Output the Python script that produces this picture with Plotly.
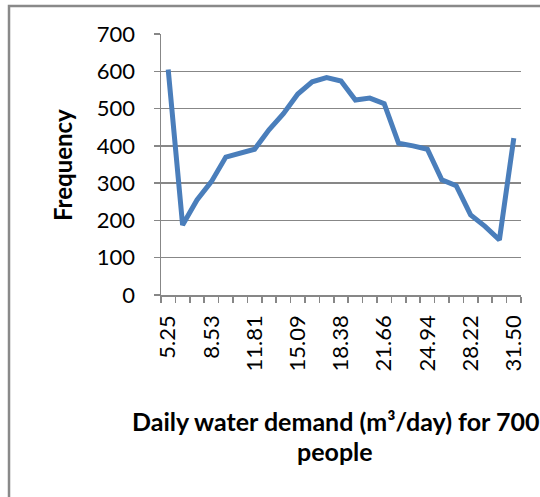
import plotly.graph_objects as go

# Category labels (m3/day) and frequencies
categories = ["5.25", "6.34", "7.44", "8.53", "9.63", "10.72", "11.81", "12.91", "14.00",
              "15.09", "16.19", "17.28", "18.38", "19.47", "20.56", "21.66", "22.75",
              "23.84", "24.94", "26.03", "27.13", "28.22", "29.31", "30.41", "31.50"]
frequency = [605, 188, 255, 304, 370, 382, 391, 443, 486, 539, 572, 583, 574, 523, 528,
             513, 407, 400, 391, 309, 293, 215, 184, 148, 421]
y_ticks = [0, 100, 200, 300, 400, 500, 600, 700]

idx = list(range(len(categories)))
shown_idx = idx[::3]
shown_labels = [categories[i] for i in shown_idx]

W, H = 540, 497
ML, MR, MT, MB = 161, 19, 34, 202
pw, ph = W - ML - MR, H - MT - MB

def px_x(p):
    return (p - ML) / pw

def px_y(p):
    return (H - MB - p) / ph

FONT = "Lato"
GRID = "#878787"
BORDER = "#898989"

fig = go.Figure()
fig.add_trace(go.Scatter(
    x=idx, y=frequency, mode="lines",
    line=dict(color="#4a7ebb", width=5, shape="linear"),
    hoverinfo="skip", showlegend=False,
))

fig.update_layout(
    width=W, height=H,
    margin=dict(l=ML, r=MR, t=MT, b=MB, pad=0, autoexpand=False),
    paper_bgcolor="white", plot_bgcolor="white",
    font=dict(family=FONT, size=22, color="#000000"),
    xaxis=dict(
        automargin=False,
        range=[-0.5, len(categories) - 0.5],
        tickmode="array", tickvals=shown_idx, ticktext=shown_labels,
        tickangle=-90, ticks="", showgrid=False,
        showline=True, linecolor=GRID, linewidth=1.5,
        tickfont=dict(family=FONT, size=22),
        ticklabelstandoff=10,
        minor=dict(tick0=-0.5, dtick=1, ticks="outside", ticklen=6,
                   tickwidth=1.5, tickcolor=GRID, showgrid=False),
        zeroline=False,
    ),
    yaxis=dict(
        automargin=False,
        range=[0, 700], tickmode="array", tickvals=y_ticks,
        ticks="outside", ticklen=6, tickwidth=1.5, tickcolor=GRID,
        showgrid=True, gridcolor=GRID, gridwidth=1.5,
        showline=True, linecolor=GRID, linewidth=1.5,
        tickfont=dict(family=FONT, size=22),
        ticklabelstandoff=14,
        zeroline=False,
    ),
    shapes=[
        dict(type="path", xref="paper", yref="paper",
             path="M {:.4f},{:.4f} L {:.4f},{:.4f} L {:.4f},{:.4f}".format(
                 px_x(9), px_y(H + 5), px_x(9), px_y(6), px_x(W + 5), px_y(6)),
             line=dict(color=BORDER, width=2.5), layer="above"),
    ],
    annotations=[
        dict(text="<b>Frequency</b>", xref="paper", yref="paper",
             x=px_x(62), y=px_y(165), textangle=-90, showarrow=False,
             font=dict(family=FONT, size=24), xanchor="center", yanchor="middle"),
        dict(text="<b>Daily water demand (m³/day) for 700</b>", xref="paper", yref="paper",
             x=px_x(335), y=px_y(421), showarrow=False,
             font=dict(family=FONT, size=25), xanchor="center", yanchor="middle"),
        dict(text="<b>people</b>", xref="paper", yref="paper",
             x=px_x(335), y=px_y(451), showarrow=False,
             font=dict(family=FONT, size=25), xanchor="center", yanchor="middle"),
    ],
)

fig.write_html("out.html",
               config={"displayModeBar": False, "staticPlot": True},
               post_script="document.body.style.margin='0px';document.body.style.overflow='hidden';")
